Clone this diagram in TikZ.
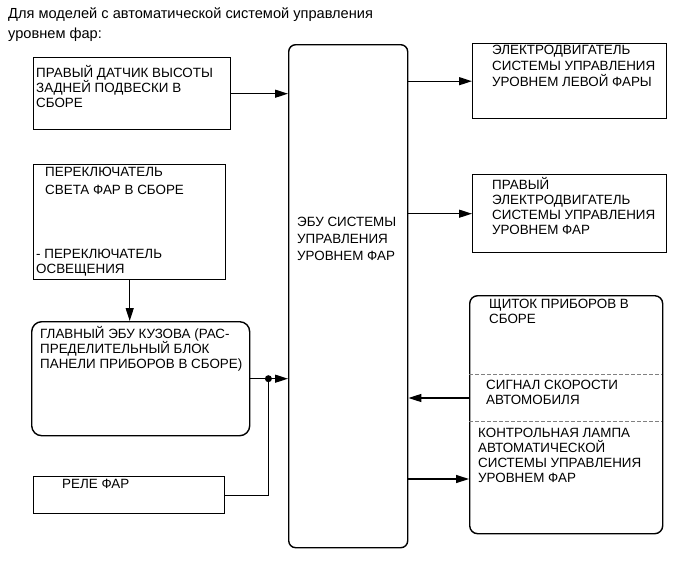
\documentclass[tikz,border=0pt]{standalone}
\usepackage{fontspec}
\setmainfont{Liberation Sans}
\usetikzlibrary{arrows.meta,calc}

\begin{document}
\begin{tikzpicture}[x=1pt,y=-1pt,
  blk/.style={draw,line width=1.4pt,inner sep=0pt,anchor=north west},
  rblk/.style={blk,rounded corners=#1},
  txt/.style={anchor=north west,inner sep=0pt,align=left,font=\fontsize{13.4}{15}\selectfont},
  conn/.style={line width=1.3pt},
  arr/.style={conn,-{Triangle[length=13pt,width=8pt]}}]
\useasboundingbox (0,0) rectangle (691,562);

\node[anchor=north west,inner sep=0pt,align=left,font=\fontsize{14.6}{20}\selectfont] (title) at (8,7)
  {Для моделей с автоматической системой управления\\уровнем фар:};

\node[blk,minimum width=197pt,minimum height=72pt] (sens) at (33,57) {};
\node[blk,minimum width=192pt,minimum height=115pt] (sw) at (33,164) {};
\node[rblk=10pt,minimum width=218pt,minimum height=114pt] (body) at (31,321) {};
\node[blk,minimum width=191pt,minimum height=37pt] (relay) at (33,476) {};
\node[rblk=7pt,minimum width=119pt,minimum height=503pt] (ecu) at (288,44) {};
\node[blk,minimum width=194pt,minimum height=75pt] (motl) at (472,43) {};
\node[blk,minimum width=194pt,minimum height=78pt] (motr) at (472,174) {};
\node[rblk=8pt,minimum width=193pt,minimum height=238pt] (meter) at (469,295) {};

\draw[dashed,dash pattern=on 4pt off 2pt,gray,line width=0.9pt] (469,374) -- (662,374);
\draw[dashed,dash pattern=on 4pt off 2pt,gray,line width=0.9pt] (469,421) -- (662,421);

\node[txt] (senst) at (36,64.8) {ПРАВЫЙ ДАТЧИК ВЫСОТЫ\\ЗАДНЕЙ ПОДВЕСКИ В\\СБОРЕ};
\node[txt] (swt) at (45,167) {ПЕРЕКЛЮЧАТЕЛЬ\\[3pt]СВЕТА ФАР В СБОРЕ};
\node[txt] (swlt) at (36,248.5) {- ПЕРЕКЛЮЧАТЕЛЬ\\ОСВЕЩЕНИЯ};
\node[txt] (bodyt) at (40,326) {ГЛАВНЫЙ ЭБУ КУЗОВА (РАС-\\ПРЕДЕЛИТЕЛЬНЫЙ БЛОК\\ПАНЕЛИ ПРИБОРОВ В СБОРЕ)};
\node[txt] (relayt) at (62,479) {РЕЛЕ ФАР};
\node[txt,font=\fontsize{13.4}{17}\selectfont] (ecut) at (297,217) {ЭБУ СИСТЕМЫ\\УПРАВЛЕНИЯ\\УРОВНЕМ ФАР};
\node[txt,font=\fontsize{13.4}{16}\selectfont] (motlt) at (492,45) {ЭЛЕКТРОДВИГАТЕЛЬ\\СИСТЕМЫ УПРАВЛЕНИЯ\\УРОВНЕМ ЛЕВОЙ ФАРЫ};
\node[txt] (motrt) at (492,177) {ПРАВЫЙ\\ЭЛЕКТРОДВИГАТЕЛЬ\\СИСТЕМЫ УПРАВЛЕНИЯ\\УРОВНЕМ ФАР};
\node[txt] (metert) at (489,299) {ЩИТОК ПРИБОРОВ В\\СБОРЕ};
\node[txt] (spdt) at (486,380) {СИГНАЛ СКОРОСТИ\\АВТОМОБИЛЯ};
\node[txt] (lampt) at (478,428) {КОНТРОЛЬНАЯ ЛАМПА\\АВТОМАТИЧЕСКОЙ\\СИСТЕМЫ УПРАВЛЕНИЯ\\УРОВНЕМ ФАР};

\coordinate (jn) at ($(body.east)+(18,0)$);
\coordinate (spd) at (469,398);
\coordinate (lamp) at (469,479);

\draw[arr] (sens.east) -- (sens.east -| ecu.west);
\draw[arr] (sw.south) -- (sw.south |- body.north);
\draw[arr] (body.east) -- (body.east -| ecu.west);
\draw[conn] (relay.east) -| (jn);
\fill (jn) circle (3.5pt);

\draw[arr] (ecu.east |- motl.west) -- (motl.west);
\draw[arr] (ecu.east |- motr.west) -- (motr.west);
\draw[arr] (spd) -- (spd -| ecu.east);
\draw[arr] (ecu.east |- lamp) -- (lamp);

\end{tikzpicture}
\end{document}
